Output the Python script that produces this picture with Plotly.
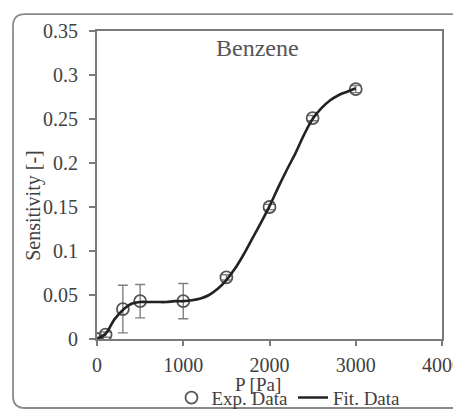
import plotly.graph_objects as go

# Experimental data
exp_p = [0, 100, 300, 500, 1000, 1500, 2000, 2500, 3000]
exp_s = [0.0, 0.005, 0.034, 0.043, 0.043, 0.070, 0.150, 0.251, 0.284]
exp_err = [0.002, 0.003, 0.027, 0.019, 0.020, 0.003, 0.003, 0.003, 0.004]

# Fit curve
fit_p = [0, 100, 200, 300, 400, 500, 600, 700, 800, 900, 1000, 1100, 1200, 1300,
         1400, 1500, 1600, 1700, 1800, 1900, 2000, 2100, 2200, 2300, 2400, 2500,
         2600, 2700, 2800, 2900, 3000]
fit_s = [0.0, 0.006, 0.022, 0.033, 0.040, 0.042, 0.042, 0.042, 0.042, 0.043, 0.043,
         0.044, 0.046, 0.050, 0.057, 0.067, 0.080, 0.096, 0.114, 0.132, 0.151,
         0.172, 0.192, 0.211, 0.232, 0.250, 0.262, 0.271, 0.277, 0.281, 0.285]

x_ticks = [0, 1000, 2000, 3000, 4000]
y_ticks = [0, 0.05, 0.1, 0.15, 0.2, 0.25, 0.3, 0.35]
y_tick_text = ["0", "0.05", "0.1", "0.15", "0.2", "0.25", "0.3", "0.35"]

font_family = "Liberation Serif"
txt = "#404040"
axc = "#7a7a7a"
fs = 20

fig = go.Figure()
fig.add_trace(go.Scatter(
    x=exp_p, y=exp_s, mode="markers", name="Exp. Data",
    marker=dict(symbol="circle-open", size=12, color="#555555", line=dict(width=1.8)),
    error_y=dict(type="data", array=exp_err, visible=True, color="#808080", thickness=1.4, width=5),
))
fig.add_trace(go.Scatter(
    x=fit_p, y=fit_s, mode="lines", name="Fit. Data",
    line=dict(color="#222222", width=2.6, shape="spline"),
))

# rounded outer frame (paper coords relative to plot area)
L, R, T, B = -0.2435, 1.08, 1.055, -0.224
rx, ry = 0.035, 0.04
path = (f"M {L+rx},{T} L {R},{T} L {R},{B} L {L+rx},{B} "
        f"Q {L},{B} {L},{B+ry} L {L},{T-ry} Q {L},{T} {L+rx},{T} Z")
fig.add_shape(type="path", path=path, xref="paper", yref="paper",
              line=dict(color="#8a8a8a", width=1.8), fillcolor="rgba(0,0,0,0)", layer="below")

fig.add_annotation(text="Benzene", x=0.464, y=0.945, xref="paper", yref="paper",
                   xanchor="center", yanchor="middle",
                   showarrow=False, font=dict(family=font_family, size=24, color="#555555"))
fig.add_annotation(text="P [Pa]", x=0.467, y=-0.147, xref="paper", yref="paper",
                   xanchor="center", yanchor="middle",
                   showarrow=False, font=dict(family=font_family, size=19, color=txt))
fig.add_annotation(text="Sensitivity [-]", x=-0.186, y=0.435, xref="paper", yref="paper",
                   xanchor="center", yanchor="middle",
                   textangle=-90, showarrow=False, font=dict(family=font_family, size=fs, color=txt))

# page body has an 8px margin, so figure is offset by (8, 8)
fig.update_layout(
    width=453, height=403,
    margin=dict(l=89, r=19, t=23, b=72),
    paper_bgcolor="white", plot_bgcolor="white",
    font=dict(family=font_family, size=fs, color=txt),
    showlegend=True,
    legend=dict(orientation="h", xref="paper", x=0.555, xanchor="center",
                yref="container", y=0.033, yanchor="middle",
                font=dict(family=font_family, size=19, color=txt),
                bgcolor="rgba(0,0,0,0)", tracegroupgap=0),
    xaxis=dict(range=[0, 4000], tickvals=x_ticks, showgrid=False, zeroline=False,
               showline=True, linecolor=axc, linewidth=2, mirror=True,
               ticks="outside", ticklen=5, tickcolor=axc, tickwidth=1.5,
               ticklabelstandoff=2, ticklabeloverflow="allow",
               automargin=False, tickfont=dict(size=fs)),
    yaxis=dict(range=[0, 0.35], tickvals=y_ticks, ticktext=y_tick_text, showgrid=False,
               zeroline=False, showline=True, linecolor=axc, linewidth=2, mirror=True,
               ticks="outside", ticklen=6, tickcolor=axc, tickwidth=1.5,
               ticklabelstandoff=7,
               automargin=False, tickfont=dict(size=fs)),
)

fig.write_html("out.html")
